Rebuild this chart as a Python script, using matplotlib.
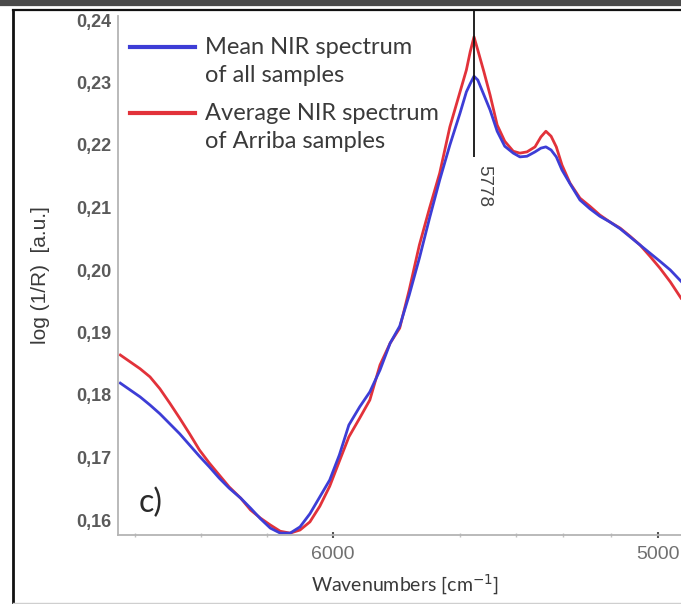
import numpy as np
import matplotlib
matplotlib.use("Agg")
import matplotlib.pyplot as plt
from matplotlib.lines import Line2D
from matplotlib.ticker import FixedLocator, MultipleLocator, FuncFormatter

# Wavenumber grid (cm^-1) shared by both spectra
wavenumber = [
    6645, 6615, 6585, 6555, 6525, 6495, 6465, 6435, 6405, 6375, 6345, 6315,
    6280, 6250, 6220, 6190, 6160, 6130, 6100, 6070, 6040, 6010, 5990, 5975,
    5958, 5942, 5926, 5910, 5895, 5880, 5864, 5848, 5832, 5816, 5800, 5790,
    5784, 5778, 5762, 5736, 5710, 5680, 5648, 5612, 5584, 5554, 5520, 5495,
    5474, 5452, 5430, 5406, 5372, 5330, 5288, 5246, 5204, 5160, 5118, 5076,
    5034, 4994, 4962, 4929,
]

# Mean NIR spectrum of all samples, log(1/R)
mean_all = [
    0.1819, 0.1808, 0.1797, 0.1784, 0.1770, 0.1754, 0.1738, 0.1720, 0.1702,
    0.1685, 0.1667, 0.1651, 0.1635, 0.1619, 0.1602, 0.1587, 0.1579, 0.1579,
    0.1589, 0.1610, 0.1637, 0.1664, 0.1704, 0.1752, 0.1781, 0.1805, 0.1840,
    0.1883, 0.1910, 0.1960, 0.2019, 0.2083, 0.2144, 0.2200, 0.2251, 0.2285,
    0.2298, 0.2310, 0.2304, 0.2280, 0.2256, 0.2222, 0.2198, 0.2187, 0.2181,
    0.2182, 0.2189, 0.2195, 0.2197, 0.2192, 0.2181, 0.2160, 0.2138, 0.2112,
    0.2098, 0.2086, 0.2077, 0.2066, 0.2053, 0.2040, 0.2027, 0.2014, 0.2000,
    0.1982,
]

# Average NIR spectrum of Arriba samples, log(1/R)
mean_arriba = [
    0.1864, 0.1853, 0.1842, 0.1829, 0.1810, 0.1787, 0.1763, 0.1738, 0.1712,
    0.1691, 0.1672, 0.1653, 0.1635, 0.1616, 0.1603, 0.1592, 0.1582, 0.1579,
    0.1584, 0.1597, 0.1622, 0.1654, 0.1694, 0.1733, 0.1763, 0.1792, 0.1848,
    0.1883, 0.1907, 0.1968, 0.2040, 0.2099, 0.2155, 0.2229, 0.2285, 0.2320,
    0.2349, 0.2373, 0.2352, 0.2317, 0.2280, 0.2232, 0.2206, 0.2190, 0.2187,
    0.2189, 0.2197, 0.2213, 0.2222, 0.2214, 0.2197, 0.2168, 0.2139, 0.2115,
    0.2102, 0.2088, 0.2077, 0.2067, 0.2054, 0.2040, 0.2022, 0.2003, 0.1981,
    0.1955,
]

peak_position = 5778
peak_line_bottom = 0.2181
x_ticks = [6000, 5000]
y_ticks = [0.16, 0.17, 0.18, 0.19, 0.20, 0.21, 0.22, 0.23, 0.24]
series_labels = [
    ["Mean NIR spectrum", "of all samples"],
    ["Average NIR spectrum", "of Arriba samples"],
]
panel_label = "c)"
x_label = "Wavenumbers [cm$^{-1}$]"
y_label = "log (1/R)  [a.u.]"

BLUE = "#3d3dd6"
RED = "#e2323a"
TEXT = "#3a3a3a"
TICK_TEXT = "#5a5a5a"

# Piecewise-linear wavenumber axis (knots: wavenumber -> axis position)
scale_wn = [3000, 4929, 5000, 5778, 6000, 6652, 9000]
scale_pos = [-625, 0, 23, 207, 348, 563, 1337]


def forward(w):
    return np.interp(np.asarray(w, dtype=float), scale_wn, scale_pos)


def inverse(p):
    return np.interp(np.asarray(p, dtype=float), scale_pos, scale_wn)


W, H = 681, 604
fig = plt.figure(figsize=(W / 100, H / 100), dpi=100)
fig.patch.set_facecolor("white")


def fxy(px, py):
    return px / W, 1 - py / H


ax = fig.add_axes([118 / W, 1 - 535 / H, (W - 118) / W, (535 - 16) / H])
ax.set_xscale("function", functions=(forward, inverse))

ax.plot(wavenumber, mean_arriba, color=RED, lw=2.0, solid_joinstyle="round")
ax.plot(wavenumber, mean_all, color=BLUE, lw=2.0, solid_joinstyle="round")

ax.set_xlim(6652, 4929)
ax.set_ylim(0.1576, 0.24064)

# Peak marker
ax.vlines(peak_position, peak_line_bottom, 0.2416, colors="#111111",
          lw=1.3, clip_on=False, zorder=5)
ax.annotate(str(peak_position), xy=(peak_position, 0.2134), xytext=(10, 0),
            textcoords="offset pixels", rotation=-90, ha="center",
            va="center", fontsize=13.5, color="#444444",
            family="Liberation Sans")

# Axes styling
for side in ("top", "right"):
    ax.spines[side].set_visible(False)
for side in ("left", "bottom"):
    ax.spines[side].set_color("#b4b4b4")
    ax.spines[side].set_linewidth(1.3)

ax.xaxis.set_major_locator(FixedLocator(x_ticks))
ax.xaxis.set_minor_locator(MultipleLocator(200))
ax.yaxis.set_major_locator(FixedLocator(y_ticks))
ax.yaxis.set_major_formatter(
    FuncFormatter(lambda v, pos: f"{v:.2f}".replace(".", ",")))
ax.xaxis.set_major_formatter(FuncFormatter(lambda v, pos: f"{v:.0f}"))

ax.tick_params(axis="x", which="major", direction="inout", length=4,
               width=1.5, color="#555555", pad=6, labelsize=14,
               labelcolor="#707070")
ax.tick_params(axis="x", which="minor", direction="inout", length=3,
               width=1, color="#c0c0c0")
ax.tick_params(axis="y", which="major", length=0, pad=5, labelsize=13,
               labelcolor=TICK_TEXT)
for lab in ax.get_yticklabels():
    lab.set_family("Liberation Sans")
    lab.set_fontweight("bold")
for lab in ax.get_xticklabels():
    lab.set_family("Liberation Sans")

# Axis titles
fig.text(*fxy(40, 275), y_label, rotation=90, ha="center", va="center",
         fontsize=15, color=TEXT, family="Liberation Sans")
fig.text(*fxy(405, 585), x_label, ha="center", va="center",
         fontsize=14, color=TEXT, family="Lato")

# Panel label
fig.text(*fxy(151, 503), panel_label, ha="center", va="center",
         fontsize=23, color="#2a2a2a", family="Lato")

# Legend
legend_rows = [(47, 76), (113, 142)]
for (labels, color, rows) in zip(series_labels, [BLUE, RED], legend_rows):
    x0, y0 = fxy(130, rows[0])
    x1, _ = fxy(195, rows[0])
    fig.add_artist(Line2D([x0, x1], [y0, y0], color=color, lw=3.0))
    for text, row in zip(labels, rows):
        fig.text(*fxy(205, row), text, ha="left", va="center",
                 fontsize=17, color=TEXT, family="Lato")

# Outer frame
fig.add_artist(Line2D([0, 1], [1 - 3 / H, 1 - 3 / H], color="#4a4a4a",
                      lw=4.5))
fig.add_artist(Line2D([13 / W, 1], [1 - 10 / H, 1 - 10 / H],
                      color="#111111", lw=1.6))
fig.add_artist(Line2D([13 / W, 13 / W], [0, 1 - 10 / H],
                      color="#111111", lw=2.0))
fig.add_artist(Line2D([13 / W, 1], [1 / H, 1 / H], color="#cfcfcf", lw=1.0))

fig.savefig("out.png", dpi=100, facecolor="white")
